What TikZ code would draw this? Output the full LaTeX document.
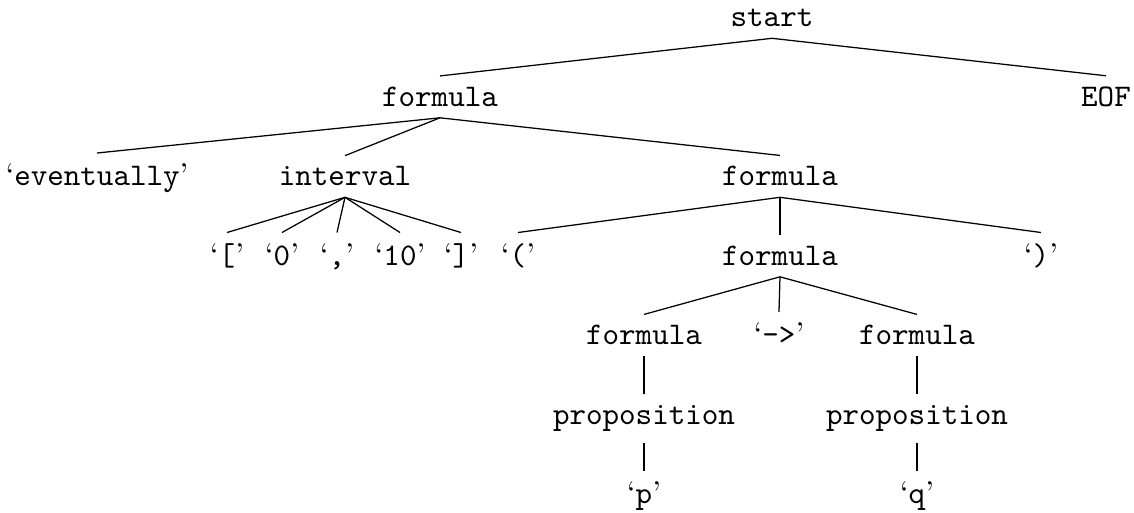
\documentclass[tikz,border=0pt]{standalone}
\newcommand\tlit[1]{{\rmfamily ‘}#1{\rmfamily ’}}
\begin{document}
\begin{tikzpicture}[x=0.3175pt,y=-0.3175pt,
  tn/.style={anchor=base,inner sep=0.3333em,font=\ttfamily},
  br/.style={draw,line width=0.4pt}]
\useasboundingbox (0,0) rectangle (1134,513);
% level 0
\node[tn] (start) at (772,27) {start};
% level 1
\node[tn] (f1) at (440,106.5) {formula};
\node[tn] (eof) at (1106,106.5) {EOF};
% level 2
\node[tn] (ev) at (97,186) {\tlit{eventually}};
\node[tn] (intv) at (345,186) {interval};
\node[tn] (f2) at (780,186) {formula};
% level 3
\node[tn] (lb) at (227,265.5) {\tlit{[}};
\node[tn] (zero) at (282,265.5) {\tlit{0}};
\node[tn] (comma) at (337,265.5) {\tlit{,}};
\node[tn] (ten) at (400,265.5) {\tlit{10}};
\node[tn] (rb) at (461,265.5) {\tlit{]}};
\node[tn] (lp) at (518,265.5) {\tlit{(}};
\node[tn] (f3) at (780,265.5) {formula};
\node[tn] (rp) at (1041,265.5) {\tlit{)}};
% level 4
\node[tn] (fl) at (644,345) {formula};
\node[tn] (imp) at (779,345) {\tlit{->}};
\node[tn] (fr) at (917,345) {formula};
% level 5
\node[tn] (pl) at (644,424.5) {proposition};
\node[tn] (pr) at (917,424.5) {proposition};
% level 6
\node[tn] (p) at (644,504) {\tlit{p}};
\node[tn] (q) at (917,504) {\tlit{q}};
% branches
\foreach \a/\b in {start/f1,start/eof,f1/ev,f1/intv,f1/f2,
  intv/lb,intv/zero,intv/comma,intv/ten,intv/rb,
  f2/lp,f2/f3,f2/rp,f3/fl,f3/imp,f3/fr,fl/pl,fr/pr,pl/p,pr/q}
  \draw[br] (\a.south) -- (\b.north);
\end{tikzpicture}
\end{document}
